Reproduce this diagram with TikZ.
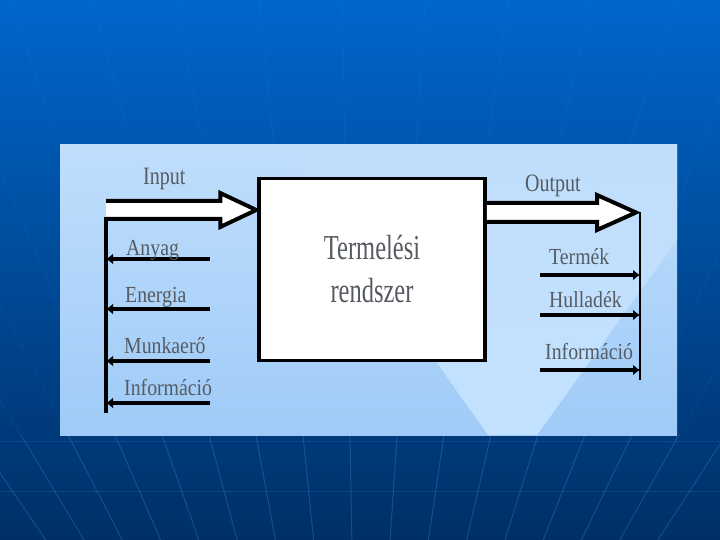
\documentclass[tikz,border=0pt]{standalone}
\usepackage{fontspec}
\setmainfont{Liberation Serif}
\newfontfamily\labelfont[FakeStretch=0.86]{Liberation Serif}
\newfontfamily\headfont[FakeStretch=0.8]{Liberation Serif}
\newfontfamily\sysfont[FakeStretch=0.7]{Liberation Serif}
\usetikzlibrary{arrows.meta,positioning,calc}
\definecolor{SlideTop}{HTML}{0066CC}
\definecolor{SlideMid}{HTML}{0056B0}
\definecolor{SlideBot}{HTML}{002F66}
\definecolor{Meridian}{HTML}{4FA3FF}
\definecolor{PanelTop}{HTML}{C0DEFC}
\definecolor{PanelBot}{HTML}{9ECBF7}
\definecolor{PanelLight}{HTML}{C3E2FF}
\definecolor{Ink}{HTML}{565B62}

\begin{document}
\begin{tikzpicture}[x=1pt,y=-1pt,
  sysbox/.style={draw=black,line width=3.5pt,fill=white,minimum width=226pt,minimum height=182pt,
    align=center,text=Ink,font=\sysfont\fontsize{35}{43}\selectfont},
  label/.style={anchor=base west,inner sep=0pt,text=Ink,font=\labelfont\fontsize{23}{25}\selectfont},
  head/.style={anchor=base west,inner sep=0pt,text=Ink,font=\headfont\fontsize{25}{28}\selectfont},
  fat/.style={draw=black,line width=4pt,fill=white},
  bus/.style={draw=black,line width=3.5pt},
  inarrow/.style={draw=black,line width=3.5pt,-{Latex[length=7pt,width=11pt]}},
  outarrow/.style={draw=black,line width=3.5pt,-{Latex[length=7pt,width=11pt]}}
]
% slide background
\useasboundingbox (0,0) rectangle (720,540);
\shade[top color=SlideTop,middle color=SlideMid,bottom color=SlideBot] (0,0) rectangle (720,540);
\foreach \k in {-8,...,8}
  \draw[Meridian,opacity=0.07,line width=1pt] ({350+47*\k-(10-47*\k)*0.77},0) -- ({350+47*\k+(10-47*\k)*0.186},540);
\begin{scope}
  \clip (0,435) rectangle (720,540);
  \foreach \k in {-8,...,8}
    \draw[Meridian,opacity=0.2,line width=1pt] ({350+47*\k-(10-47*\k)*0.77},0) -- ({350+47*\k+(10-47*\k)*0.186},540);
\end{scope}
\draw[Meridian,opacity=0.15,line width=1pt] (0,441) -- (720,441);
\draw[Meridian,opacity=0.15,line width=1pt] (0,491) -- (720,491);

% panel
\shade[top color=PanelTop,bottom color=PanelBot] (60,145) rectangle (677,435);
\shade[top color=PanelTop,bottom color=PanelLight] (283,145) -- (677,145) -- (677,240) -- (537,435) -- (488,435) -- cycle;

% system
\node[sysbox] (sys) at (372,269.5) {Termelési\\rendszer};

% input side
\coordinate (inS) at (106,210);
\coordinate (inTip) at ($(sys.west |- inS)+(-1,0)$);
\draw[fat] ($(inS)+(0,-9)$) -- ($(inTip)+(-36,-9)$) -- ($(inTip)+(-36,-17)$) -- (inTip)
  -- ($(inTip)+(-36,17)$) -- ($(inTip)+(-36,9)$) -- ($(inS)+(0,9)$);
\coordinate (lbusT) at (106,217);
\coordinate (lbusB) at (106,413);
\draw[bus] (lbusT) -- (lbusB);
\foreach \y/\n in {259/a,309/b,361/c,403/d}{
  \coordinate (in\n) at (210,\y);
  \draw[inarrow] (in\n) -- (in\n -| lbusT);
}
\node[head] (input) at (143,185) {Input};
\node[label] (anyag) at (126,255) {Anyag};
\node[label] (energia) at (125,302) {Energia};
\node[label] (munka) at (124,353) {Munkaerő};
\node[label] (infoin) at (124,395) {Információ};

% output side
\coordinate (outS) at (sys.east |- 0,212.5);
\coordinate (outTip) at (636,212.5);
\draw[fat] (outS) ++(0,-9.5) -- ($(outTip)+(-39,-9.5)$) -- ($(outTip)+(-39,-17.5)$) -- (outTip)
  -- ($(outTip)+(-39,17.5)$) -- ($(outTip)+(-39,9.5)$) -- ($(outS)+(0,9.5)$);
\coordinate (rbusT) at (640,212);
\coordinate (rbusB) at (640,380);
\draw[bus,line width=2.5pt] (rbusT) -- (rbusB);
\foreach \y/\n in {275/a,315/b,370/c}{
  \coordinate (out\n) at (540,\y);
  \draw[outarrow] (out\n) -- (out\n -| rbusT);
}
\node[head] (output) at (525,191.5) {Output};
\node[label] (termek) at (549,264) {Termék};
\node[label] (hulla) at (549,307) {Hulladék};
\node[label] (infoout) at (545,359) {Információ};
\end{tikzpicture}
\end{document}
